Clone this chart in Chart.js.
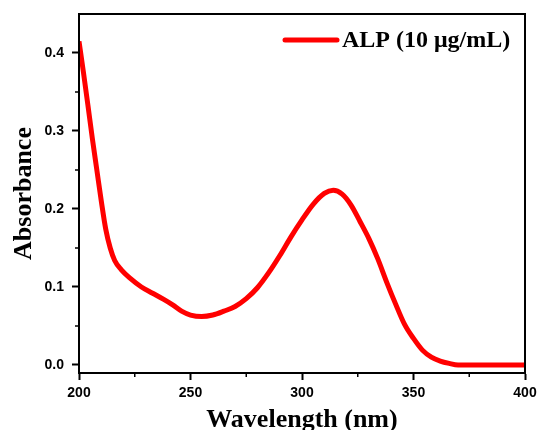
<!DOCTYPE html>
<html>
<head>
<meta charset="utf-8">
<script src="https://cdn.jsdelivr.net/npm/chart.js@4"></script>
<style>
  html, body { margin: 0; padding: 0; background: #fff; }
  #wrap { width: 537px; height: 430px; }
</style>
</head>
<body>
<div id="wrap"><canvas id="uvChart" width="537" height="430"></canvas></div>
<script>
// spectrum
const wavelength = [200, 202, 204, 206, 208, 210, 212, 214, 216, 219, 223, 228, 233, 238, 242, 246, 250, 255, 260, 265, 270, 275, 280, 285, 290, 295, 300, 305, 310, 314, 318, 322, 326, 330, 334, 338, 342, 346, 350, 354, 358, 362, 366, 370, 380, 390, 400];
const absorbance = [0.415, 0.375, 0.333, 0.29, 0.25, 0.21, 0.174, 0.15, 0.134, 0.122, 0.111, 0.1, 0.092, 0.084, 0.077, 0.069, 0.064, 0.062, 0.064, 0.069, 0.075, 0.085, 0.099, 0.118, 0.14, 0.164, 0.186, 0.206, 0.22, 0.224, 0.219, 0.205, 0.184, 0.162, 0.136, 0.106, 0.078, 0.052, 0.034, 0.019, 0.01, 0.005, 0.002, 0.0, 0.0, 0.0, 0.0];
const seriesLabel = 'ALP (10 μg/mL)';
const xTicks = [200, 250, 300, 350, 400];
const xMinor = [225, 275, 325, 375];
const yTicks = [0.0, 0.1, 0.2, 0.3, 0.4];
const yMinor = [0.05, 0.15, 0.25, 0.35];

const points = wavelength.map((w, i) => ({ x: w, y: absorbance[i] }));

// frame, minor ticks and the legend inside the plot
const framePlugin = {
    id: 'frame',
    afterDraw(chart) {
        const ctx = chart.ctx;
        const a = chart.chartArea;
        const xs = chart.scales.x;
        const ys = chart.scales.y;
        ctx.save();
        ctx.strokeStyle = '#000';
        ctx.lineWidth = 2;
        ctx.strokeRect(a.left, a.top, a.right - a.left, a.bottom - a.top);

        ctx.lineWidth = 1.5;
        ctx.beginPath();
        xMinor.forEach(v => {
            const px = xs.getPixelForValue(v);
            ctx.moveTo(px, a.bottom);
            ctx.lineTo(px, a.bottom + 4);
        });
        yMinor.forEach(v => {
            const py = ys.getPixelForValue(v);
            ctx.moveTo(a.left, py);
            ctx.lineTo(a.left - 4, py);
        });
        ctx.stroke();

        // legend
        const ly = 40;
        ctx.strokeStyle = '#ff0000';
        ctx.lineWidth = 5;
        ctx.lineCap = 'round';
        ctx.beginPath();
        ctx.moveTo(285, ly);
        ctx.lineTo(337, ly);
        ctx.stroke();
        ctx.fillStyle = '#000';
        ctx.font = 'bold 24px "Liberation Serif", "Times New Roman", serif';
        ctx.textBaseline = 'middle';
        ctx.textAlign = 'left';
        ctx.fillText(chart.data.datasets[0].label, 342, ly + 1);
        ctx.restore();
    }
};

const tickFont = { family: '"Liberation Sans", Arial, sans-serif', size: 14, weight: 'bold' };
const titleFont = { family: '"Liberation Serif", "Times New Roman", serif', size: 26, weight: 'bold' };

new Chart(document.getElementById('uvChart'), {
    type: 'line',
    data: {
        datasets: [{
            label: seriesLabel,
            data: points,
            borderColor: '#ff0000',
            borderWidth: 5,
            pointRadius: 0,
            fill: false,
            cubicInterpolationMode: 'monotone'
        }]
    },
    options: {
        responsive: false,
        animation: false,
        layout: { padding: { top: 14, right: 12, left: 0, bottom: 0 } },
        plugins: {
            legend: { display: false },
            tooltip: { enabled: false }
        },
        scales: {
            x: {
                type: 'linear',
                min: 200,
                max: 400,
                afterBuildTicks: (s) => { s.ticks = xTicks.map(v => ({ value: v })); },
                afterFit: (s) => { s.height = 57; s.paddingLeft = 0; s.paddingRight = 0; },
                grid: { drawOnChartArea: false, color: '#000', tickLength: 7, tickWidth: 2 },
                border: { color: '#000', width: 2 },
                ticks: { color: '#000', font: tickFont, padding: 5, maxRotation: 0 },
                title: { display: true, text: 'Wavelength (nm)', color: '#000', font: titleFont, padding: { top: 0, bottom: -6 } }
            },
            y: {
                min: -0.0103,
                max: 0.45,
                afterBuildTicks: (s) => { s.ticks = yTicks.map(v => ({ value: v })); },
                afterFit: (s) => { s.width = 79; s.paddingTop = 0; s.paddingBottom = 0; },
                grid: { drawOnChartArea: false, color: '#000', tickLength: 7, tickWidth: 2 },
                border: { color: '#000', width: 2 },
                ticks: { color: '#000', font: tickFont, padding: 8, callback: (v) => Number(v).toFixed(1) },
                title: { display: true, text: 'Absorbance', color: '#000', font: titleFont, padding: { top: 9, bottom: 0 } }
            }
        }
    },
    plugins: [framePlugin]
});
</script>
</body>
</html>
